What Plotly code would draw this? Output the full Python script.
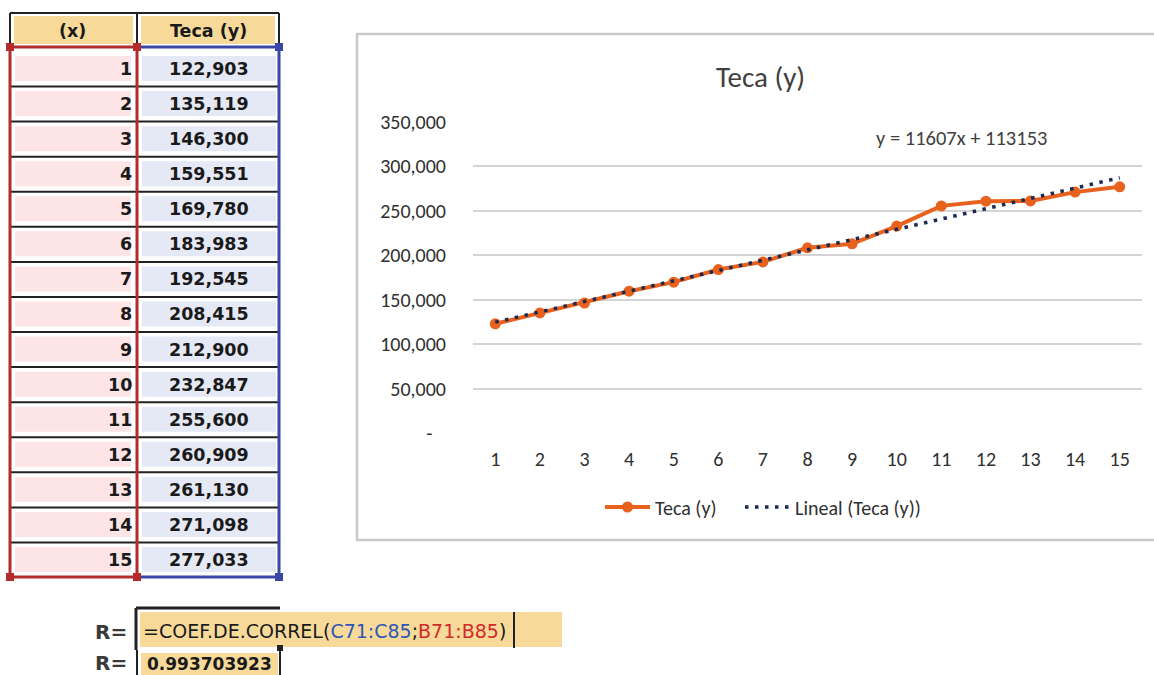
import plotly.graph_objects as go

# ---------------- data ----------------
X_VALUES = [1, 2, 3, 4, 5, 6, 7, 8, 9, 10, 11, 12, 13, 14, 15]
TECA_Y = [122903, 135119, 146300, 159551, 169780, 183983, 192545, 208415,
          212900, 232847, 255600, 260909, 261130, 271098, 277033]
TREND_SLOPE = 11607
TREND_INTERCEPT = 113153
Y_TICKS = [0, 50000, 100000, 150000, 200000, 250000, 300000, 350000]
Y_TICK_LABELS = ["-\u00a0\u00a0\u00a0", "50,000", "100,000", "150,000", "200,000",
                 "250,000", "300,000", "350,000"]
HEADER_X = "(x)"
HEADER_Y = "Teca (y)"
CHART_TITLE = "Teca (y)"
SERIES_NAME = "Teca (y)"
TREND_NAME = "Lineal (Teca (y))"
FORMULA_PARTS = [("=COEF.DE.CORREL(", "#1a1a1a"), ("C71:C85", "#2f55b5"),
                 (";", "#1a1a1a"), ("B71:B85", "#d22a2a"), (")", "#1a1a1a")]
R_LABEL = "R="
R_VALUE_TEXT = "0.993703923"

W, H = 1154, 675
FONT = "Carlito, Calibri, Lato, sans-serif"
SHEET_FONT = "DejaVu Sans, Verdana, sans-serif"


def fx(x):
    return x / W


def fy(y):
    return 1 - y / H


trend_y = [TREND_SLOPE * x + TREND_INTERCEPT for x in X_VALUES]
eq_text = f"y = {TREND_SLOPE}x + {TREND_INTERCEPT}"

fig = go.Figure()
fig.add_trace(go.Scatter(
    x=X_VALUES, y=TECA_Y, mode="lines+markers", name=SERIES_NAME,
    line=dict(color="#e8621e", width=4),
    marker=dict(color="#e8621e", size=11),
    legend="legend",
))
fig.add_trace(go.Scatter(
    x=X_VALUES, y=trend_y, mode="lines", name=TREND_NAME,
    line=dict(color="#1c2a52", width=3.5, dash="3.5px,6.5px"),
    legend="legend2",
))

shapes = []
annotations = []


def rect(x0, y0, x1, y1, fill=None, line=None, lw=0):
    shapes.append(dict(type="rect", xref="paper", yref="paper",
                       x0=fx(x0), x1=fx(x1), y0=fy(y0), y1=fy(y1),
                       fillcolor=fill if fill else "rgba(0,0,0,0)",
                       line=dict(color=line if line else "rgba(0,0,0,0)", width=lw),
                       layer="above"))


def hline(x0, x1, y, color, lw):
    shapes.append(dict(type="line", xref="paper", yref="paper",
                       x0=fx(x0), x1=fx(x1), y0=fy(y), y1=fy(y),
                       line=dict(color=color, width=lw)))


def vline(x, y0, y1, color, lw):
    shapes.append(dict(type="line", xref="paper", yref="paper",
                       x0=fx(x), x1=fx(x), y0=fy(y0), y1=fy(y1),
                       line=dict(color=color, width=lw)))


def text(x, y, s, size, color="#1a1a1a", xanchor="center", bold=False, family=SHEET_FONT):
    annotations.append(dict(xref="paper", yref="paper", x=fx(x), y=fy(y),
                            text=f"<b>{s}</b>" if bold else s, showarrow=False,
                            xanchor=xanchor, yanchor="middle",
                            font=dict(family=family, size=size, color=color)))


# ---------------- spreadsheet table ----------------
RED = "#b32b2b"
BLUE = "#3a47a6"
BLACK = "#222222"
TAN = "#f7da9a"
PINK = "#fde4e6"
LBLUE = "#e5e9f5"

XL, XM, XR = 10, 137, 279
TOP, HEAD_B = 13, 47
ROW0, ROWH = 69, 35.07
BOTTOM = 577

# header
rect(14, 16, 133, 44, fill=TAN)
rect(141, 16, 275, 44, fill=TAN)
hline(XL, XR, TOP, BLACK, 2)
vline(XL, TOP, HEAD_B, BLACK, 2)
vline(XM, TOP, HEAD_B, BLACK, 2)
vline(XR, TOP, HEAD_B, BLACK, 2)
text(73, 31, HEADER_X, 17.5, bold=True)
text(208, 31, HEADER_Y, 17.5, bold=True)

for i, (xv, yv) in enumerate(zip(X_VALUES, TECA_Y)):
    cy = ROW0 + i * ROWH
    rect(15, cy - 13, 131, cy + 12, fill=PINK)
    rect(142, cy - 13, 276, cy + 12, fill=LBLUE)
    if i < len(X_VALUES) - 1:
        hline(XL, XR, cy + ROWH / 2, BLACK, 2)
    text(134, cy, str(xv), 17.5, xanchor="right", bold=True)
    text(209, cy, f"{yv:,}", 17.5, bold=True)

# selection borders
vline(XL, HEAD_B, BOTTOM, RED, 3)
vline(XM, HEAD_B, BOTTOM, RED, 3)
hline(XL, XM, HEAD_B, RED, 3)
hline(XL, XM, BOTTOM, RED, 3)
vline(XR, HEAD_B, BOTTOM, BLUE, 3)
hline(XM + 3, XR, HEAD_B, BLUE, 3)
hline(XM + 3, XR, BOTTOM, BLUE, 3)
for (sx, sy, c) in [(XL, HEAD_B, RED), (XM, HEAD_B, RED), (XL, BOTTOM, RED),
                    (XM, BOTTOM, RED), (XR, HEAD_B, BLUE), (XR, BOTTOM, BLUE)]:
    rect(sx - 4, sy - 4, sx + 4, sy + 4, fill=c)

# ---------------- formula rows ----------------
rect(140, 612, 562, 647, fill=TAN)
hline(136, 280, 608, BLACK, 3)
vline(136, 608, 650, BLACK, 3)
vline(514, 612, 648, BLACK, 2)
rect(277, 645, 283, 651, fill=BLACK)
text(111, 632, R_LABEL, 20, color="#3a3a3a", bold=True)
formula_html = "".join(f'<span style="color:{c}">{s}</span>' for s, c in FORMULA_PARTS)
annotations.append(dict(xref="paper", yref="paper", x=fx(141), y=fy(631),
                        text=formula_html, showarrow=False, xanchor="left",
                        yanchor="middle", font=dict(family=SHEET_FONT, size=19, color="#1a1a1a")))

rect(141, 653, 278, 676, fill=TAN)
vline(137, 650, 676, BLACK, 2)
vline(280, 650, 676, BLACK, 2)
text(111, 663, R_LABEL, 20, color="#3a3a3a", bold=True)
text(145, 664, R_VALUE_TEXT, 17, xanchor="left", bold=True)

# ---------------- chart frame & texts ----------------
rect(357, 34, W + 10, 540, line="#c9c9c9", lw=2.5)
text(760, 77, CHART_TITLE, 29, color="#404040", family=FONT)
text(961, 138, eq_text, 20.5, color="#404040", family=FONT)

PLOT_L, PLOT_R = 473, 1142
PLOT_T, PLOT_B = 122, 433

legend_common = dict(orientation="h", y=fy(507), yanchor="middle", xanchor="left",
                     itemwidth=45, font=dict(family=FONT, size=20, color="#303030"),
                     bgcolor="rgba(0,0,0,0)")

fig.update_layout(
    width=W, height=H, autosize=False,
    margin=dict(l=0, r=0, t=0, b=0, autoexpand=False),
    paper_bgcolor="white", plot_bgcolor="white",
    shapes=shapes, annotations=annotations,
    xaxis=dict(domain=[fx(PLOT_L), fx(PLOT_R)], range=[0.5, 15.5],
               tickvals=X_VALUES, ticktext=[str(v) for v in X_VALUES],
               showgrid=False, zeroline=False, showline=False, ticks="",
               automargin=False, ticklabelstandoff=12,
               tickfont=dict(family=FONT, size=20, color="#303030")),
    yaxis=dict(domain=[fy(PLOT_B), fy(PLOT_T)], range=[0, 350000],
               tickvals=Y_TICKS, ticktext=Y_TICK_LABELS,
               showgrid=True, gridcolor="#d4d4d4", gridwidth=1.5,
               zeroline=False, showline=False, ticks="", automargin=False,
               ticklabelstandoff=26,
               tickfont=dict(family=FONT, size=20, color="#303030")),
    showlegend=True,
    legend=dict(x=fx(600), **legend_common),
    legend2=dict(x=fx(740), **legend_common),
)

fig.write_html("out.html", config={"displayModeBar": False},
               post_script="document.body.style.margin='0';document.body.style.overflow='hidden';")
